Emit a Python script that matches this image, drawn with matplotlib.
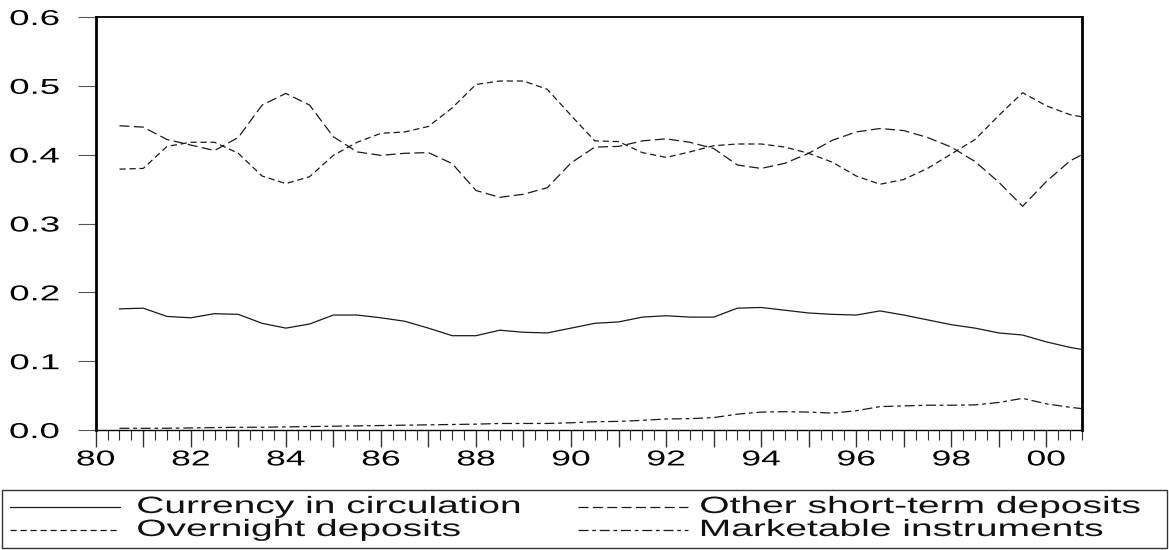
import numpy as np
import matplotlib
matplotlib.use('Agg')
import matplotlib.pyplot as plt
from matplotlib.patheffects import AbstractPathEffect
from matplotlib.transforms import Affine2D
from matplotlib.lines import Line2D
from matplotlib.patches import Rectangle
from matplotlib.ticker import MultipleLocator, FixedLocator

# half-yearly readings, 1980H2 .. 2000H2 plus the last quarter
dates = list(np.arange(1980.5, 2000.51, 0.5)) + [2000.75]

currency = [0.176, 0.177, 0.165, 0.163, 0.169, 0.168, 0.155, 0.148, 0.154, 0.167,
            0.167, 0.163, 0.158, 0.148, 0.137, 0.137, 0.145, 0.142, 0.141, 0.148,
            0.155, 0.157, 0.164, 0.166, 0.164, 0.164, 0.177, 0.178, 0.174, 0.170,
            0.168, 0.167, 0.173, 0.167, 0.160, 0.153, 0.148, 0.141, 0.138, 0.128,
            0.120, 0.117]
other_st = [0.442, 0.440, 0.422, 0.414, 0.406, 0.425, 0.472, 0.489, 0.472, 0.426,
            0.404, 0.399, 0.402, 0.403, 0.387, 0.348, 0.338, 0.3425, 0.352, 0.388,
            0.411, 0.412, 0.420, 0.423, 0.418, 0.409, 0.385, 0.380, 0.3875, 0.402,
            0.421, 0.433, 0.438, 0.435, 0.425, 0.411, 0.390, 0.360, 0.325, 0.361,
            0.391, 0.400]
overnight = [0.379, 0.380, 0.412, 0.418, 0.418, 0.402, 0.369, 0.358, 0.368, 0.399,
             0.418, 0.431, 0.433, 0.441, 0.468, 0.502, 0.507, 0.507, 0.495, 0.457,
             0.420, 0.419, 0.403, 0.396, 0.404, 0.413, 0.4155, 0.4155, 0.411, 0.402,
             0.389, 0.369, 0.357, 0.364, 0.380, 0.401, 0.422, 0.457, 0.490, 0.471,
             0.458, 0.455]
marketable = [0.0025, 0.0025, 0.0025, 0.003, 0.0035, 0.004, 0.004, 0.0045, 0.005, 0.0055,
              0.006, 0.0065, 0.007, 0.0075, 0.008, 0.0085, 0.0095, 0.0095, 0.0095, 0.0105,
              0.012, 0.0125, 0.014, 0.016, 0.0165, 0.018, 0.023, 0.026, 0.0266, 0.026,
              0.0245, 0.028, 0.034, 0.035, 0.036, 0.036, 0.0365, 0.040, 0.046, 0.038,
              0.033, 0.031]

y_ticks = [0.0, 0.1, 0.2, 0.3, 0.4, 0.5, 0.6]

series = [
    ("Currency in circulation", currency, '-'),
    ("Other short-term deposits", other_st, (0, (8, 3.5))),
    ("Overnight deposits", overnight, (0, (5, 3))),
    ("Marketable instruments", marketable, (0, (8, 3, 3, 3))),
]


class Stretch(AbstractPathEffect):
    """draw text glyphs wider than normal (the source graph was stretched)"""
    def __init__(self, sx, frac=0.0):
        super().__init__()
        self.sx = sx
        self.frac = frac

    def draw_path(self, renderer, gc, tpath, affine, rgbFace=None):
        ext = tpath.get_extents()
        p = ext.x0 + self.frac * ext.width
        tr = Affine2D().translate(-p, 0).scale(self.sx, 1).translate(p, 0) + affine
        renderer.draw_path(gc, tpath, tr, rgbFace)


plt.rcParams['font.family'] = ['Liberation Sans', 'DejaVu Sans']
W, H = 1169, 550
fig = plt.figure(figsize=(W / 100, H / 100), dpi=100)
ax = fig.add_axes([95.7 / W, 1 - 430 / H, (1082 - 95.7) / W, (430 - 17) / H])

for name, vals, ls in series:
    ax.plot(dates, vals, color='#1a1a1a', lw=0.9, linestyle=ls)

ax.set_xlim(1980, 2000.75)
ax.set_ylim(0, 0.6)

ax.set_yticks(y_ticks, ['%.1f' % v for v in y_ticks])
years = list(range(1980, 2001))
ax.xaxis.set_major_locator(FixedLocator(years))
ax.set_xticks(years, ['%02d' % (y % 100) if y % 2 == 0 else '' for y in years])
ax.xaxis.set_minor_locator(MultipleLocator(0.25))

ax.tick_params(axis='y', direction='out', length=13, width=0.8, color='#555',
               labelsize=15.5, pad=13)
ax.tick_params(axis='x', which='major', direction='out', length=12, width=1.0,
               color='#333', labelsize=15.5, pad=2)
ax.tick_params(axis='x', which='minor', direction='out', length=7, width=0.8, color='#333')

for side in ['left', 'right']:
    ax.spines[side].set_linewidth(2.0)
ax.spines['top'].set_linewidth(1.3)
ax.spines['bottom'].set_linewidth(1.0)

for lbl in ax.get_yticklabels():
    lbl.set_path_effects([Stretch(1.7, 1.0)])
for lbl in ax.get_xticklabels():
    lbl.set_path_effects([Stretch(1.65, 0.5)])

# legend box below the plot
fig.add_artist(Rectangle((2 / W, 1 - 548 / H), 1165 / W, 58 / H, transform=fig.transFigure,
                         fill=False, lw=1.0, ec='#333'))
rows = [507, 530]
cols = [(10, 120, 137), (578, 688, 700)]
order = [0, 1, 2, 3]  # fills row by row
for i, k in enumerate(order):
    name, vals, ls = series[k]
    r, c = divmod(i, 2)
    x0, x1, xt = cols[c]
    yy = 1 - rows[r] / H
    fig.add_artist(Line2D([x0 / W, x1 / W], [yy, yy], transform=fig.transFigure,
                          color='#1a1a1a', lw=0.9, linestyle=ls))
    t = fig.text(xt / W, yy, name, ha='left', va='center', fontsize=17, color='#111')
    t.set_path_effects([Stretch(1.65, 0.0)])

fig.savefig('out.png', dpi=100)
